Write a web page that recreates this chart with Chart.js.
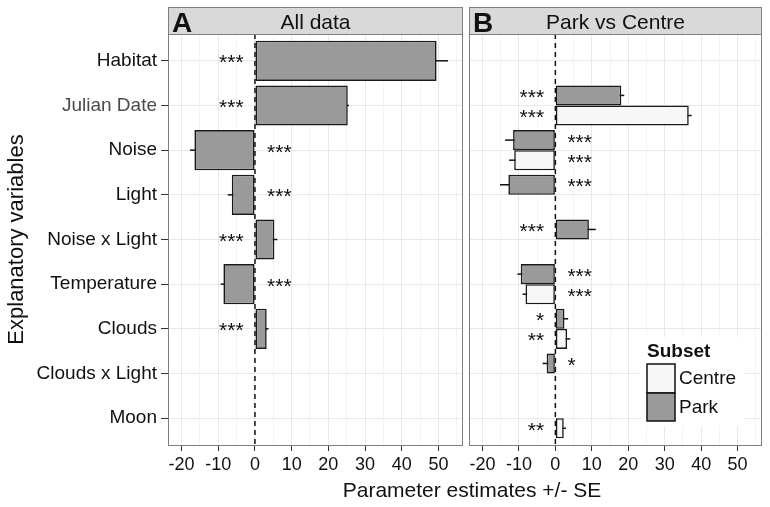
<!DOCTYPE html>
<html>
<head>
<meta charset="utf-8">
<script src="https://cdn.jsdelivr.net/npm/chart.js@4.4.0/dist/chart.umd.min.js"></script>
<style>
  body { margin: 0; background: #fff; }
  #wrap { position: relative; width: 770px; height: 507px; overflow: hidden; }
  canvas { position: absolute; top: 0; }
  #xtitle {
    position: absolute; left: 272px; width: 400px; top: 478px;
    text-align: center; font: 21px "Liberation Sans", Arial, sans-serif;
    line-height: 24px; color: #111;
  }
</style>
</head>
<body>
<div id="wrap">
  <canvas id="panelA" width="466" height="507" style="left:0"></canvas>
  <canvas id="panelB" width="304" height="507" style="left:466px"></canvas>
  <div id="xtitle">Parameter estimates +/- SE</div>
</div>
<script>
const FONT = '"Liberation Sans", Arial, sans-serif';

const categories = ['Habitat', 'Julian Date', 'Noise', 'Light', 'Noise x Light',
  'Temperature', 'Clouds', 'Clouds x Light', 'Moon'];
const xTicks = [-20, -15, -10, -5, 0, 5, 10, 15, 20, 25, 30, 35, 40, 45, 50, 55];

// panel A: all data
const allEst = [49.5, 25.3, -16.5, -6.3, 5.3, -8.6, 3.2, null, null];
const allSE = [3.1, 0.3, 1.2, 1.1, 0.8, 0.7, 0.5, null, null];
const allSig = ['***', '***', '***', '***', '***', '***', '***', '', ''];

// panel B: park vs centre
const parkEst = [null, 18.1, -11.6, -12.9, 9.2, -9.5, 2.5, -2.4, null];
const parkSE = [null, 0.8, 2.2, 2.3, 1.9, 0.9, 1.0, 1.1, null];
const parkSig = ['', '***', '***', '***', '***', '***', '*', '*', ''];
const centreEst = [null, 36.6, -11.3, null, null, -8.2, 3.2, null, 2.3];
const centreSE = [null, 0.8, 1.4, null, null, 0.8, 0.9, null, 0.6];
const centreSig = ['', '***', '***', '', '', '***', '**', '', '**'];

const PARK = '#9a9a9a';
const CENTRE = '#f7f7f7';

function points(vals) {
  return vals.map((v, i) => ({y: i, x: v}));
}

const panelPlugin = {
  id: 'panel',
  beforeDatasetsDraw(chart) {
    const {ctx, chartArea: a, scales: {x}} = chart;
    const ds = chart.config.options.plugins.panel.series;
    ctx.save();
    // dashed zero line
    ctx.strokeStyle = '#111';
    ctx.lineWidth = 1.5;
    ctx.setLineDash([5, 4]);
    ctx.beginPath();
    ctx.moveTo(x.getPixelForValue(0), a.top);
    ctx.lineTo(x.getPixelForValue(0), a.bottom);
    ctx.stroke();
    ctx.setLineDash([]);
    // error bars, drawn first so bars hide the inner half
    ds.forEach((s, d) => {
      const meta = chart.getDatasetMeta(d);
      s.est.forEach((v, i) => {
        if (v == null) return;
        const y = meta.data[i].y;
        ctx.beginPath();
        ctx.moveTo(x.getPixelForValue(v - s.se[i]), y);
        ctx.lineTo(x.getPixelForValue(v + s.se[i]), y);
        ctx.stroke();
      });
    });
    ctx.restore();
  },
  afterDatasetsDraw(chart) {
    const {ctx, chartArea: a, scales: {x}} = chart;
    const opts = chart.config.options.plugins.panel;
    ctx.save();
    // significance stars on the far side of the bar
    ctx.fillStyle = '#111';
    ctx.font = '21px ' + FONT;
    ctx.textBaseline = 'alphabetic';
    opts.series.forEach((s, d) => {
      const meta = chart.getDatasetMeta(d);
      s.est.forEach((v, i) => {
        if (v == null || !s.sig[i]) return;
        const y = meta.data[i].y + 8.5;
        if (v > 0) {
          ctx.textAlign = 'right';
          ctx.fillText(s.sig[i], x.getPixelForValue(-3.1), y);
        } else {
          ctx.textAlign = 'left';
          ctx.fillText(s.sig[i], x.getPixelForValue(3.3), y);
        }
      });
    });
    // panel frame
    ctx.strokeStyle = '#7f7f7f';
    ctx.lineWidth = 1;
    ctx.strokeRect(a.left + 0.5, a.top + 0.5, a.right - a.left - 1, a.bottom - a.top);
    // strip
    ctx.fillStyle = '#d9d9d9';
    ctx.fillRect(a.left, 7, a.right - a.left, a.top - 7);
    ctx.strokeRect(a.left + 0.5, 7.5, a.right - a.left - 1, a.top - 7);
    ctx.fillStyle = '#111';
    ctx.textAlign = 'left';
    ctx.font = 'bold 28px ' + FONT;
    ctx.fillText(opts.letter, a.left + 4, 32);
    ctx.textAlign = 'center';
    ctx.font = '21px ' + FONT;
    ctx.fillText(opts.title, (a.left + a.right) / 2, 29);
    // legend
    if (opts.legend) {
      const lx = 647 - 466;
      ctx.fillStyle = '#fff';
      ctx.fillRect(lx - 6, 337, 104, 89);
      ctx.fillStyle = '#111';
      ctx.textAlign = 'left';
      ctx.font = 'bold 19px ' + FONT;
      ctx.fillText('Subset', lx, 357);
      ctx.lineWidth = 1.5;
      ctx.strokeStyle = '#111';
      ctx.fillStyle = CENTRE;
      ctx.fillRect(lx, 364, 28, 29);
      ctx.strokeRect(lx, 364, 28, 29);
      ctx.fillStyle = PARK;
      ctx.fillRect(lx, 393, 28, 28);
      ctx.strokeRect(lx, 393, 28, 28);
      ctx.fillStyle = '#111';
      ctx.font = '19px ' + FONT;
      ctx.textBaseline = 'middle';
      ctx.fillText('Centre', lx + 32, 379);
      ctx.fillText('Park', lx + 32, 408);
    }
    ctx.restore();
  }
};

function xScale() {
  return {
    type: 'linear', min: -23.7, max: 56.7,
    afterBuildTicks: s => { s.ticks = xTicks.map(v => ({value: v})); },
    afterFit: s => { s.height = 62; s.paddingLeft = 0; s.paddingRight = 0; },
    border: {display: false},
    grid: {
      color: c => (c.tick && c.tick.value % 10 === 0) ? '#e8e8e8' : '#f4f4f4',
      tickLength: 6,
      tickColor: c => (c.tick && c.tick.value % 10 === 0) ? '#333' : 'rgba(0,0,0,0)'
    },
    ticks: {
      autoSkip: false, maxRotation: 0, padding: 3,
      font: {family: FONT, size: 18}, color: '#111',
      callback: v => v % 10 === 0 ? String(v) : ''
    }
  };
}

function yScale(showLabels) {
  return {
    type: 'linear', reverse: true, min: -0.6, max: 8.6, offset: false,
    afterBuildTicks: s => { s.ticks = categories.map((c, i) => ({value: i})); },
    afterFit: s => { s.width = showLabels ? 168 : 3; s.paddingTop = 0; s.paddingBottom = 0; },
    border: {display: false},
    grid: {color: '#e8e8e8', offset: false, drawTicks: showLabels, tickLength: 7, tickColor: '#333'},
    ticks: {
      display: showLabels, autoSkip: false, padding: 4,
      font: {family: FONT, size: 19},
      color: c => c.index === 1 ? '#4a4a4a' : '#111',
      callback: v => categories[v]
    },
    title: {
      display: showLabels, text: 'Explanatory variables', color: '#111',
      font: {family: FONT, size: 22}, padding: {top: 4, bottom: 0}
    }
  };
}

function barSet(vals, color) {
  return {
    data: points(vals), backgroundColor: color, borderColor: '#1a1a1a',
    borderWidth: 1.6, borderSkipped: false,
    categoryPercentage: 0.9, barPercentage: 1
  };
}

new Chart(document.getElementById('panelA'), {
  type: 'bar',
  data: {datasets: [barSet(allEst, PARK)]},
  options: {
    indexAxis: 'y', responsive: false, animation: false, devicePixelRatio: 1,
    layout: {padding: {left: 0, top: 34, right: 3, bottom: 0}},
    scales: {x: xScale(), y: yScale(true)},
    plugins: {
      legend: {display: false}, tooltip: {enabled: false},
      panel: {letter: 'A', title: 'All data', legend: false,
        series: [{est: allEst, se: allSE, sig: allSig}]}
    }
  },
  plugins: [panelPlugin]
});

new Chart(document.getElementById('panelB'), {
  type: 'bar',
  data: {datasets: [barSet(parkEst, PARK), barSet(centreEst, CENTRE)]},
  options: {
    indexAxis: 'y', responsive: false, animation: false, devicePixelRatio: 1,
    layout: {padding: {left: 0, top: 34, right: 8, bottom: 0}},
    scales: {x: xScale(), y: yScale(false)},
    plugins: {
      legend: {display: false}, tooltip: {enabled: false},
      panel: {letter: 'B', title: 'Park vs Centre', legend: true,
        series: [
          {est: parkEst, se: parkSE, sig: parkSig},
          {est: centreEst, se: centreSE, sig: centreSig}
        ]}
    }
  },
  plugins: [panelPlugin]
});
</script>
</body>
</html>
